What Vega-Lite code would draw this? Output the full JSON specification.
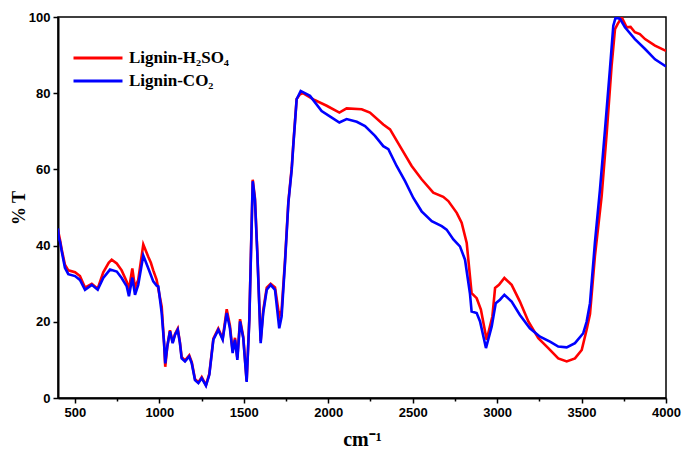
{
  "$schema": "https://vega.github.io/schema/vega-lite/v6.json",
  "autosize": "none",
  "width": 608,
  "height": 381,
  "padding": {"left": 58, "top": 17, "right": 17, "bottom": 54},
  "background": "white",
  "config": {
    "view": {"stroke": "black", "strokeWidth": 1.5},
    "axis": {"grid": false, "domainColor": "black", "domainWidth": 2, "tickColor": "black", "tickWidth": 1.5,
      "labelFont": "Liberation Sans", "labelFontWeight": "bold", "labelFontSize": 13, "labelColor": "black",
      "titleFont": "Liberation Serif", "titleFontWeight": "bold", "titleColor": "black"},
    "legend": {"title": null, "orient": "none", "symbolType": "stroke", "symbolSize": 2400, "symbolStrokeWidth": 3,
      "labelFont": "Liberation Serif", "labelFontWeight": "bold", "labelFontSize": 17, "labelColor": "black",
      "labelOffset": 5, "padding": 0}
  },
  "resolve": {"scale": {"color": "independent"}},
  "datasets": {
    "h": [
      {"x":400,"T":44,"s":"Lignin-H₂SO₄"},{"x":412,"T":41.5,"s":"Lignin-H₂SO₄"},{"x":422,"T":39,"s":"Lignin-H₂SO₄"},{"x":441,"T":35,"s":"Lignin-H₂SO₄"},{"x":461,"T":33.5,"s":"Lignin-H₂SO₄"},{"x":501,"T":33,"s":"Lignin-H₂SO₄"},{"x":530,"T":32,"s":"Lignin-H₂SO₄"},{"x":560,"T":29,"s":"Lignin-H₂SO₄"},{"x":600,"T":30,"s":"Lignin-H₂SO₄"},{"x":635,"T":28.7,"s":"Lignin-H₂SO₄"},{"x":668,"T":33,"s":"Lignin-H₂SO₄"},{"x":700,"T":35.5,"s":"Lignin-H₂SO₄"},{"x":718,"T":36.3,"s":"Lignin-H₂SO₄"},{"x":748,"T":35.3,"s":"Lignin-H₂SO₄"},{"x":777,"T":33.5,"s":"Lignin-H₂SO₄"},{"x":807,"T":30.5,"s":"Lignin-H₂SO₄"},{"x":820,"T":28.5,"s":"Lignin-H₂SO₄"},{"x":840,"T":34,"s":"Lignin-H₂SO₄"},{"x":856,"T":29,"s":"Lignin-H₂SO₄"},{"x":875,"T":31,"s":"Lignin-H₂SO₄"},{"x":905,"T":40.3,"s":"Lignin-H₂SO₄"},{"x":935,"T":37,"s":"Lignin-H₂SO₄"},{"x":950,"T":35.5,"s":"Lignin-H₂SO₄"},{"x":964,"T":33.5,"s":"Lignin-H₂SO₄"},{"x":984,"T":31,"s":"Lignin-H₂SO₄"},{"x":1014,"T":24,"s":"Lignin-H₂SO₄"},{"x":1028,"T":14.5,"s":"Lignin-H₂SO₄"},{"x":1035,"T":8.2,"s":"Lignin-H₂SO₄"},{"x":1047,"T":13.5,"s":"Lignin-H₂SO₄"},{"x":1063,"T":17.8,"s":"Lignin-H₂SO₄"},{"x":1079,"T":14.6,"s":"Lignin-H₂SO₄"},{"x":1093,"T":16.8,"s":"Lignin-H₂SO₄"},{"x":1109,"T":18.2,"s":"Lignin-H₂SO₄"},{"x":1122,"T":14.6,"s":"Lignin-H₂SO₄"},{"x":1132,"T":10.8,"s":"Lignin-H₂SO₄"},{"x":1152,"T":9.8,"s":"Lignin-H₂SO₄"},{"x":1177,"T":11.2,"s":"Lignin-H₂SO₄"},{"x":1192,"T":9.4,"s":"Lignin-H₂SO₄"},{"x":1211,"T":5,"s":"Lignin-H₂SO₄"},{"x":1231,"T":4.1,"s":"Lignin-H₂SO₄"},{"x":1251,"T":5.5,"s":"Lignin-H₂SO₄"},{"x":1276,"T":3.4,"s":"Lignin-H₂SO₄"},{"x":1296,"T":6.4,"s":"Lignin-H₂SO₄"},{"x":1320,"T":15.6,"s":"Lignin-H₂SO₄"},{"x":1349,"T":18.2,"s":"Lignin-H₂SO₄"},{"x":1375,"T":15.6,"s":"Lignin-H₂SO₄"},{"x":1399,"T":23.3,"s":"Lignin-H₂SO₄"},{"x":1418,"T":19,"s":"Lignin-H₂SO₄"},{"x":1434,"T":12.3,"s":"Lignin-H₂SO₄"},{"x":1448,"T":15.8,"s":"Lignin-H₂SO₄"},{"x":1462,"T":10.5,"s":"Lignin-H₂SO₄"},{"x":1478,"T":20.7,"s":"Lignin-H₂SO₄"},{"x":1497,"T":16,"s":"Lignin-H₂SO₄"},{"x":1517,"T":4.5,"s":"Lignin-H₂SO₄"},{"x":1533,"T":21,"s":"Lignin-H₂SO₄"},{"x":1553,"T":57.3,"s":"Lignin-H₂SO₄"},{"x":1566,"T":52.5,"s":"Lignin-H₂SO₄"},{"x":1580,"T":38.5,"s":"Lignin-H₂SO₄"},{"x":1600,"T":15,"s":"Lignin-H₂SO₄"},{"x":1615,"T":23,"s":"Lignin-H₂SO₄"},{"x":1636,"T":29,"s":"Lignin-H₂SO₄"},{"x":1659,"T":30,"s":"Lignin-H₂SO₄"},{"x":1685,"T":29,"s":"Lignin-H₂SO₄"},{"x":1710,"T":21.4,"s":"Lignin-H₂SO₄"},{"x":1724,"T":23,"s":"Lignin-H₂SO₄"},{"x":1744,"T":36,"s":"Lignin-H₂SO₄"},{"x":1764,"T":51.5,"s":"Lignin-H₂SO₄"},{"x":1784,"T":60.5,"s":"Lignin-H₂SO₄"},{"x":1793,"T":66.5,"s":"Lignin-H₂SO₄"},{"x":1813,"T":78.5,"s":"Lignin-H₂SO₄"},{"x":1833,"T":79.7,"s":"Lignin-H₂SO₄"},{"x":1850,"T":80,"s":"Lignin-H₂SO₄"},{"x":1912,"T":78.4,"s":"Lignin-H₂SO₄"},{"x":1991,"T":76.7,"s":"Lignin-H₂SO₄"},{"x":2066,"T":74.9,"s":"Lignin-H₂SO₄"},{"x":2109,"T":76,"s":"Lignin-H₂SO₄"},{"x":2198,"T":75.8,"s":"Lignin-H₂SO₄"},{"x":2247,"T":74.9,"s":"Lignin-H₂SO₄"},{"x":2326,"T":71.8,"s":"Lignin-H₂SO₄"},{"x":2366,"T":70.5,"s":"Lignin-H₂SO₄"},{"x":2435,"T":65.3,"s":"Lignin-H₂SO₄"},{"x":2494,"T":60.9,"s":"Lignin-H₂SO₄"},{"x":2553,"T":57.4,"s":"Lignin-H₂SO₄"},{"x":2622,"T":53.9,"s":"Lignin-H₂SO₄"},{"x":2681,"T":52.8,"s":"Lignin-H₂SO₄"},{"x":2711,"T":51.7,"s":"Lignin-H₂SO₄"},{"x":2761,"T":48.6,"s":"Lignin-H₂SO₄"},{"x":2790,"T":46,"s":"Lignin-H₂SO₄"},{"x":2820,"T":40.7,"s":"Lignin-H₂SO₄"},{"x":2849,"T":27.5,"s":"Lignin-H₂SO₄"},{"x":2879,"T":26.2,"s":"Lignin-H₂SO₄"},{"x":2904,"T":23.2,"s":"Lignin-H₂SO₄"},{"x":2938,"T":15.3,"s":"Lignin-H₂SO₄"},{"x":2972,"T":21.4,"s":"Lignin-H₂SO₄"},{"x":2988,"T":28.9,"s":"Lignin-H₂SO₄"},{"x":3011,"T":29.7,"s":"Lignin-H₂SO₄"},{"x":3043,"T":31.5,"s":"Lignin-H₂SO₄"},{"x":3086,"T":29.7,"s":"Lignin-H₂SO₄"},{"x":3135,"T":25.3,"s":"Lignin-H₂SO₄"},{"x":3185,"T":20.1,"s":"Lignin-H₂SO₄"},{"x":3244,"T":15.7,"s":"Lignin-H₂SO₄"},{"x":3303,"T":13.1,"s":"Lignin-H₂SO₄"},{"x":3362,"T":10.4,"s":"Lignin-H₂SO₄"},{"x":3412,"T":9.6,"s":"Lignin-H₂SO₄"},{"x":3461,"T":10.4,"s":"Lignin-H₂SO₄"},{"x":3501,"T":12.6,"s":"Lignin-H₂SO₄"},{"x":3530,"T":17.9,"s":"Lignin-H₂SO₄"},{"x":3550,"T":22,"s":"Lignin-H₂SO₄"},{"x":3579,"T":37.2,"s":"Lignin-H₂SO₄"},{"x":3619,"T":53,"s":"Lignin-H₂SO₄"},{"x":3649,"T":69.6,"s":"Lignin-H₂SO₄"},{"x":3678,"T":87.2,"s":"Lignin-H₂SO₄"},{"x":3698,"T":96.8,"s":"Lignin-H₂SO₄"},{"x":3714,"T":98.2,"s":"Lignin-H₂SO₄"},{"x":3738,"T":99.9,"s":"Lignin-H₂SO₄"},{"x":3767,"T":97.3,"s":"Lignin-H₂SO₄"},{"x":3790,"T":97.4,"s":"Lignin-H₂SO₄"},{"x":3816,"T":96,"s":"Lignin-H₂SO₄"},{"x":3845,"T":95.5,"s":"Lignin-H₂SO₄"},{"x":3876,"T":94.2,"s":"Lignin-H₂SO₄"},{"x":3935,"T":92.5,"s":"Lignin-H₂SO₄"},{"x":4000,"T":91.1,"s":"Lignin-H₂SO₄"}
    ],
    "c": [
      {"x":400,"T":44.5,"s":"Lignin-CO₂"},{"x":405,"T":42,"s":"Lignin-CO₂"},{"x":412,"T":41,"s":"Lignin-CO₂"},{"x":422,"T":38.5,"s":"Lignin-CO₂"},{"x":441,"T":34.2,"s":"Lignin-CO₂"},{"x":461,"T":32.5,"s":"Lignin-CO₂"},{"x":501,"T":32,"s":"Lignin-CO₂"},{"x":530,"T":31,"s":"Lignin-CO₂"},{"x":560,"T":28.4,"s":"Lignin-CO₂"},{"x":600,"T":29.7,"s":"Lignin-CO₂"},{"x":635,"T":28.4,"s":"Lignin-CO₂"},{"x":668,"T":31.5,"s":"Lignin-CO₂"},{"x":708,"T":33.7,"s":"Lignin-CO₂"},{"x":748,"T":33.2,"s":"Lignin-CO₂"},{"x":777,"T":31.5,"s":"Lignin-CO₂"},{"x":807,"T":29.3,"s":"Lignin-CO₂"},{"x":820,"T":26.7,"s":"Lignin-CO₂"},{"x":840,"T":31.6,"s":"Lignin-CO₂"},{"x":856,"T":27.1,"s":"Lignin-CO₂"},{"x":875,"T":29.7,"s":"Lignin-CO₂"},{"x":905,"T":37.4,"s":"Lignin-CO₂"},{"x":935,"T":34,"s":"Lignin-CO₂"},{"x":964,"T":30.6,"s":"Lignin-CO₂"},{"x":984,"T":29.5,"s":"Lignin-CO₂"},{"x":994,"T":29.3,"s":"Lignin-CO₂"},{"x":1014,"T":22.3,"s":"Lignin-CO₂"},{"x":1028,"T":14.4,"s":"Lignin-CO₂"},{"x":1035,"T":9.1,"s":"Lignin-CO₂"},{"x":1047,"T":13.5,"s":"Lignin-CO₂"},{"x":1063,"T":17.5,"s":"Lignin-CO₂"},{"x":1079,"T":14.4,"s":"Lignin-CO₂"},{"x":1093,"T":16.6,"s":"Lignin-CO₂"},{"x":1109,"T":17.9,"s":"Lignin-CO₂"},{"x":1122,"T":14.4,"s":"Lignin-CO₂"},{"x":1132,"T":10.4,"s":"Lignin-CO₂"},{"x":1152,"T":9.6,"s":"Lignin-CO₂"},{"x":1177,"T":10.9,"s":"Lignin-CO₂"},{"x":1192,"T":9.1,"s":"Lignin-CO₂"},{"x":1211,"T":4.7,"s":"Lignin-CO₂"},{"x":1231,"T":3.9,"s":"Lignin-CO₂"},{"x":1251,"T":5.2,"s":"Lignin-CO₂"},{"x":1276,"T":3.2,"s":"Lignin-CO₂"},{"x":1296,"T":6.1,"s":"Lignin-CO₂"},{"x":1320,"T":15.3,"s":"Lignin-CO₂"},{"x":1349,"T":17.9,"s":"Lignin-CO₂"},{"x":1375,"T":15.3,"s":"Lignin-CO₂"},{"x":1399,"T":22.3,"s":"Lignin-CO₂"},{"x":1418,"T":18.3,"s":"Lignin-CO₂"},{"x":1434,"T":11.8,"s":"Lignin-CO₂"},{"x":1448,"T":15.3,"s":"Lignin-CO₂"},{"x":1462,"T":10,"s":"Lignin-CO₂"},{"x":1478,"T":20.1,"s":"Lignin-CO₂"},{"x":1497,"T":15.7,"s":"Lignin-CO₂"},{"x":1517,"T":4.2,"s":"Lignin-CO₂"},{"x":1533,"T":20.5,"s":"Lignin-CO₂"},{"x":1553,"T":56.9,"s":"Lignin-CO₂"},{"x":1566,"T":52.1,"s":"Lignin-CO₂"},{"x":1580,"T":38.1,"s":"Lignin-CO₂"},{"x":1600,"T":14.4,"s":"Lignin-CO₂"},{"x":1615,"T":22.3,"s":"Lignin-CO₂"},{"x":1636,"T":28.4,"s":"Lignin-CO₂"},{"x":1659,"T":29.7,"s":"Lignin-CO₂"},{"x":1685,"T":28.4,"s":"Lignin-CO₂"},{"x":1710,"T":18.3,"s":"Lignin-CO₂"},{"x":1724,"T":21.4,"s":"Lignin-CO₂"},{"x":1744,"T":35.4,"s":"Lignin-CO₂"},{"x":1764,"T":51.2,"s":"Lignin-CO₂"},{"x":1784,"T":60,"s":"Lignin-CO₂"},{"x":1793,"T":66.1,"s":"Lignin-CO₂"},{"x":1813,"T":78.4,"s":"Lignin-CO₂"},{"x":1837,"T":80.6,"s":"Lignin-CO₂"},{"x":1892,"T":79.3,"s":"Lignin-CO₂"},{"x":1961,"T":75.3,"s":"Lignin-CO₂"},{"x":2021,"T":73.6,"s":"Lignin-CO₂"},{"x":2066,"T":72.3,"s":"Lignin-CO₂"},{"x":2109,"T":73.2,"s":"Lignin-CO₂"},{"x":2169,"T":72.5,"s":"Lignin-CO₂"},{"x":2218,"T":71.4,"s":"Lignin-CO₂"},{"x":2277,"T":68.8,"s":"Lignin-CO₂"},{"x":2326,"T":66.1,"s":"Lignin-CO₂"},{"x":2356,"T":65.3,"s":"Lignin-CO₂"},{"x":2405,"T":60.9,"s":"Lignin-CO₂"},{"x":2455,"T":56.9,"s":"Lignin-CO₂"},{"x":2504,"T":52.5,"s":"Lignin-CO₂"},{"x":2553,"T":49,"s":"Lignin-CO₂"},{"x":2613,"T":46.4,"s":"Lignin-CO₂"},{"x":2672,"T":45.1,"s":"Lignin-CO₂"},{"x":2701,"T":44.2,"s":"Lignin-CO₂"},{"x":2741,"T":41.6,"s":"Lignin-CO₂"},{"x":2780,"T":39.8,"s":"Lignin-CO₂"},{"x":2810,"T":36.3,"s":"Lignin-CO₂"},{"x":2839,"T":27.5,"s":"Lignin-CO₂"},{"x":2849,"T":22.7,"s":"Lignin-CO₂"},{"x":2879,"T":22.3,"s":"Lignin-CO₂"},{"x":2899,"T":20.1,"s":"Lignin-CO₂"},{"x":2934,"T":13.1,"s":"Lignin-CO₂"},{"x":2968,"T":18.8,"s":"Lignin-CO₂"},{"x":2992,"T":24.9,"s":"Lignin-CO₂"},{"x":3017,"T":25.8,"s":"Lignin-CO₂"},{"x":3043,"T":27.1,"s":"Lignin-CO₂"},{"x":3086,"T":25.3,"s":"Lignin-CO₂"},{"x":3135,"T":21.8,"s":"Lignin-CO₂"},{"x":3194,"T":18.3,"s":"Lignin-CO₂"},{"x":3254,"T":16.1,"s":"Lignin-CO₂"},{"x":3313,"T":14.8,"s":"Lignin-CO₂"},{"x":3362,"T":13.5,"s":"Lignin-CO₂"},{"x":3412,"T":13.3,"s":"Lignin-CO₂"},{"x":3461,"T":14.4,"s":"Lignin-CO₂"},{"x":3510,"T":17,"s":"Lignin-CO₂"},{"x":3530,"T":20,"s":"Lignin-CO₂"},{"x":3550,"T":24.9,"s":"Lignin-CO₂"},{"x":3579,"T":40.7,"s":"Lignin-CO₂"},{"x":3609,"T":54.7,"s":"Lignin-CO₂"},{"x":3639,"T":70.5,"s":"Lignin-CO₂"},{"x":3668,"T":86.3,"s":"Lignin-CO₂"},{"x":3688,"T":97.7,"s":"Lignin-CO₂"},{"x":3702,"T":99.9,"s":"Lignin-CO₂"},{"x":3728,"T":99.5,"s":"Lignin-CO₂"},{"x":3757,"T":97.3,"s":"Lignin-CO₂"},{"x":3816,"T":94.2,"s":"Lignin-CO₂"},{"x":3876,"T":91.6,"s":"Lignin-CO₂"},{"x":3935,"T":88.9,"s":"Lignin-CO₂"},{"x":4000,"T":87,"s":"Lignin-CO₂"}
    ]
  },
  "layer": [
    {
      "data": {"name": "h"},
      "mark": {"type": "line", "strokeWidth": 2.6, "clip": true},
      "encoding": {
        "x": {"field": "x", "type": "quantitative",
          "scale": {"domain": [400, 4000], "nice": false},
          "axis": {"values": [500,750,1000,1250,1500,1750,2000,2250,2500,2750,3000,3250,3500,3750,4000],
            "labelExpr": "datum.value % 500 === 0 ? datum.label : ''",
            "format": "d",
            "tickSize": {"condition": {"test": "datum.value % 500 === 0", "value": 5}, "value": 3},
            "labelPadding": 3, "labelFlush": false,
            "title": "cm⁻¹", "titleFontSize": 20, "titlePadding": 10}},
        "y": {"field": "T", "type": "quantitative",
          "scale": {"domain": [0, 100], "nice": false},
          "axis": {"values": [0,10,20,30,40,50,60,70,80,90,100],
            "labelExpr": "datum.value % 20 === 0 ? datum.label : ''",
            "tickSize": {"condition": {"test": "datum.value % 20 === 0", "value": 5}, "value": 3},
            "labelPadding": 3, "labelFlush": false,
            "title": "% T", "titleFontSize": 18, "titlePadding": 0}},
        "color": {"field": "s", "type": "nominal",
          "scale": {"domain": ["Lignin-H₂SO₄"], "range": ["#ff0000"]},
          "legend": {"legendX": 14, "legendY": 15}}
      }
    },
    {
      "data": {"name": "c"},
      "mark": {"type": "line", "strokeWidth": 2.6, "clip": true},
      "encoding": {
        "x": {"field": "x", "type": "quantitative"},
        "y": {"field": "T", "type": "quantitative"},
        "color": {"field": "s", "type": "nominal",
          "scale": {"domain": ["Lignin-CO₂"], "range": ["#0000ff"]},
          "legend": {"legendX": 14, "legendY": 38}}
      }
    }
  ]
}
